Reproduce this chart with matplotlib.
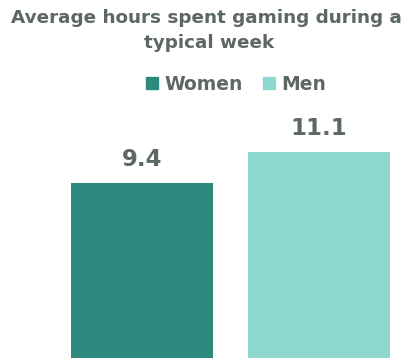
import matplotlib.pyplot as plt
from matplotlib.patches import Patch

# data
groups = ['Women', 'Men']
hours = [9.4, 11.1]
colors = ['#2E8A7F', '#8DD7CF']
text_color = '#5D6865'

W, H = 410, 358
fig = plt.figure(figsize=(W / 100, H / 100), dpi=100)
plt.rcParams['font.family'] = ['DejaVu Sans']

# axes spans the whole width, baseline at the bottom edge
ax = fig.add_axes([0, 0, 1, 258 / H])
ax.bar(range(len(groups)), hours, width=0.8, color=colors)
ax.set_xlim(-142 / 177, 1 + (W - 319) / 177)
ax.set_ylim(0, 258 / 18.6)
ax.axis('off')

for i, v in enumerate(hours):
    ax.annotate(f'{v}', (i, v), xytext=(0, 8.5), textcoords='offset points',
                ha='center', va='bottom', fontsize=16.5, fontweight='bold',
                color=text_color)

# title, two lines
fig.text(206 / W, 1 - 23 / H, 'Average hours spent gaming during a',
         ha='center', va='baseline', fontsize=13.2, fontweight='bold',
         color=text_color)
fig.text(209 / W, 1 - 48 / H, 'typical week',
         ha='center', va='baseline', fontsize=13.2, fontweight='bold',
         color=text_color)

handles = [Patch(color=c, label=g) for c, g in zip(colors, groups)]
fig.legend(handles=handles, loc='center', bbox_to_anchor=(236 / W, 1 - 84 / H),
           ncol=2, frameon=False, handlelength=0.65, handleheight=0.65,
           handletextpad=0.3, columnspacing=1.1, labelcolor=text_color,
           prop={'weight': 'bold', 'size': 13.5})

fig.savefig('out.png', dpi=100)
